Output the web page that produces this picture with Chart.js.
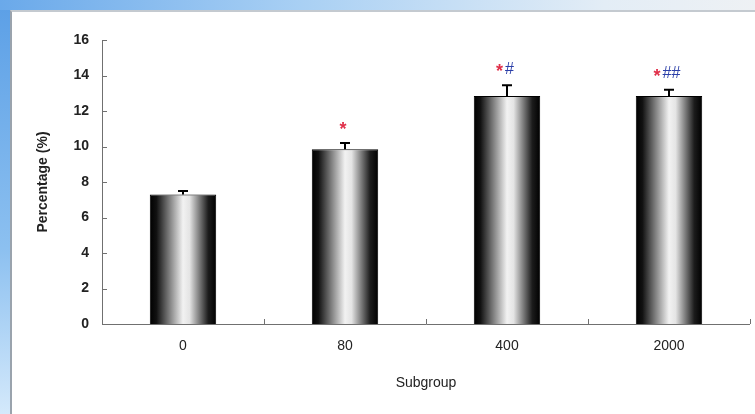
<!DOCTYPE html>
<html>
<head>
<meta charset="utf-8">
<script src="https://cdn.jsdelivr.net/npm/chart.js@4.4.0/dist/chart.umd.min.js"></script>
<style>
  body { margin: 0; background: #fff; }
  #frame { position: relative; width: 755px; height: 414px; overflow: hidden; background: #fff; }
  #leftStrip { position: absolute; left: 0; top: 0; width: 10px; height: 414px;
    background: linear-gradient(to bottom, #5b9fe6, #8cc0f0 60%, #d4e9fb); }
  #topStrip { position: absolute; left: 0; top: 0; width: 755px; height: 10px;
    background: linear-gradient(to right, #6aa9ea, #a9d0f4 40%, #e3edf6 80%, #eef1f4); }
  #panel { position: absolute; left: 10px; top: 10px; right: 0; bottom: 0;
    border-left: 2px solid #9aa3ad; border-top: 2px solid #c4cad0; background: #fff; }
  canvas { position: absolute; left: 0; top: 0; }
</style>
</head>
<body>
<div id="frame">
  <div id="leftStrip"></div>
  <div id="topStrip"></div>
  <div id="panel"></div>
  <canvas id="chart" width="755" height="414"></canvas>
</div>
<script>
const categories = ["0", "80", "400", "2000"];
const values = [7.3, 9.85, 12.85, 12.85];
const errors = [0.2, 0.35, 0.6, 0.35];
const starMarks = ["", "*", "*", "*"];
const hashMarks = ["", "", "#", "##"];
const yTicks = [0, 2, 4, 6, 8, 10, 12, 14, 16];

const BAR_PCT = 0.41;
const FONT = "'Liberation Sans', Arial, sans-serif";

// 圓柱漸層
function barGradient(context) {
  const chart = context.chart;
  if (!chart.chartArea) return "#000";
  const xScale = chart.scales.x;
  const cx = xScale.getPixelForValue(context.dataIndex);
  const half = (xScale.width / categories.length) * BAR_PCT / 2;
  const g = chart.ctx.createLinearGradient(cx - half, 0, cx + half, 0);
  g.addColorStop(0, "#000");
  g.addColorStop(0.1, "#111");
  g.addColorStop(0.5, "#f2f2f2");
  g.addColorStop(0.6, "#e4e4e4");
  g.addColorStop(0.88, "#1c1c1c");
  g.addColorStop(1, "#000");
  return g;
}

const axesAndErrors = {
  id: "axesAndErrors",
  afterDatasetsDraw(chart) {
    const ctx = chart.ctx;
    const xs = chart.scales.x;
    const ys = chart.scales.y;
    const area = chart.chartArea;
    ctx.save();
    // axis lines
    ctx.strokeStyle = "#707070";
    ctx.lineWidth = 1;
    ctx.beginPath();
    ctx.moveTo(area.left + 0.5, area.top);
    ctx.lineTo(area.left + 0.5, area.bottom + 0.5);
    ctx.lineTo(area.right, area.bottom + 0.5);
    ctx.stroke();
    // inward ticks on y
    yTicks.forEach((v) => {
      const y = Math.round(ys.getPixelForValue(v)) + 0.5;
      ctx.beginPath();
      ctx.moveTo(area.left, y);
      ctx.lineTo(area.left + 5, y);
      ctx.stroke();
    });
    // inward ticks on x at category boundaries
    for (let i = 1; i <= categories.length; i++) {
      const x = Math.round(xs.getPixelForValue(i - 0.5)) + 0.5;
      ctx.beginPath();
      ctx.moveTo(x, area.bottom);
      ctx.lineTo(x, area.bottom - 5);
      ctx.stroke();
    }
    // error bars
    ctx.strokeStyle = "#000";
    ctx.lineWidth = 2;
    values.forEach((v, i) => {
      const x = xs.getPixelForValue(i);
      const y0 = ys.getPixelForValue(v);
      const y1 = ys.getPixelForValue(v + errors[i]);
      ctx.beginPath();
      ctx.moveTo(x, y0);
      ctx.lineTo(x, y1);
      ctx.moveTo(x - 5, y1);
      ctx.lineTo(x + 5, y1);
      ctx.stroke();
    });
    // significance marks
    ctx.textBaseline = "middle";
    ctx.textAlign = "left";
    values.forEach((v, i) => {
      const x = xs.getPixelForValue(i);
      const y = ys.getPixelForValue(v + errors[i]);
      const star = starMarks[i];
      const hash = hashMarks[i];
      ctx.font = "bold 18px " + FONT;
      const sw = star ? ctx.measureText(star).width : 0;
      ctx.font = "16px " + FONT;
      const hw = hash ? ctx.measureText(hash).width + 2 : 0;
      const left = x - (sw + hw) / 2 - 2;
      if (star) {
        ctx.font = "bold 18px " + FONT;
        ctx.fillStyle = "#e0304a";
        ctx.fillText(star, left, y - 13);
      }
      if (hash) {
        ctx.font = "16px " + FONT;
        ctx.fillStyle = "#2b3fa8";
        ctx.fillText(hash, left + sw + 2, y - 16);
      }
    });
    ctx.restore();
  },
};

new Chart(document.getElementById("chart"), {
  type: "bar",
  data: {
    labels: categories,
    datasets: [
      {
        label: "Percentage",
        data: values,
        backgroundColor: barGradient,
        borderColor: "#000",
        borderWidth: 1,
        barPercentage: BAR_PCT,
        categoryPercentage: 1,
      },
    ],
  },
  options: {
    responsive: false,
    animation: false,
    layout: { padding: { top: 40, right: 5, left: 0, bottom: 0 } },
    plugins: {
      legend: { display: false },
      tooltip: { enabled: false },
    },
    scales: {
      x: {
        grid: { display: false, drawTicks: false },
        border: { display: false },
        ticks: {
          color: "#222",
          padding: 14,
          font: { family: FONT, size: 14 },
        },
        title: {
          display: true,
          text: "Subgroup",
          color: "#222",
          font: { family: FONT, size: 14 },
          padding: { top: 0, bottom: 22 },
        },
        afterFit: (scale) => { scale.height = 90; },
      },
      y: {
        min: 0,
        max: 16,
        grid: { display: false, drawTicks: false },
        border: { display: false },
        afterBuildTicks: (scale) => { scale.ticks = yTicks.map((v) => ({ value: v })); },
        ticks: {
          color: "#222",
          padding: 13,
          font: { family: FONT, size: 14, weight: "bold" },
        },
        title: {
          display: true,
          text: "Percentage (%)",
          color: "#222",
          font: { family: FONT, size: 14, weight: "bold" },
          padding: { top: 35, bottom: 0 },
        },
        afterFit: (scale) => { scale.width = 102; },
      },
    },
  },
  plugins: [axesAndErrors],
});
</script>
</body>
</html>
